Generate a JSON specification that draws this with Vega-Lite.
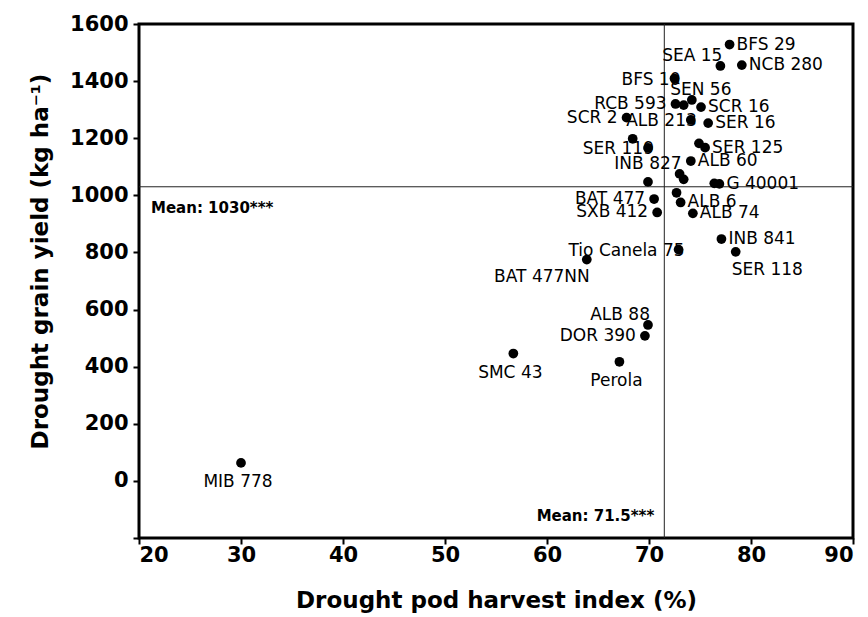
{
  "$schema": "https://vega.github.io/schema/vega-lite/v6.json",
  "width": 714,
  "height": 514,
  "autosize": "none",
  "padding": {"left": 139, "top": 24, "right": 15, "bottom": 79},
  "background": "white",
  "config": {
    "view": {"stroke": "black", "strokeWidth": 3},
    "font": "DejaVu Sans",
    "axis": {
      "domain": false, "grid": false, "tickColor": "black", "tickSize": 6, "tickWidth": 2,
      "labelColor": "black", "labelFont": "DejaVu Sans", "labelFontWeight": "bold", "labelFontSize": 21,
      "titleColor": "black", "titleFont": "DejaVu Sans", "titleFontWeight": "bold", "titleFontSize": 23
    }
  },
  "data": {
    "values": [
      {"label": "BFS 29", "hi": 77.9, "gy": 1528},
      {"label": "SEA 15", "hi": 77.0, "gy": 1453},
      {"label": "NCB 280", "hi": 79.1, "gy": 1456},
      {"label": "BFS 10", "hi": 72.5, "gy": 1409},
      {"label": "RCB 593", "hi": 72.6, "gy": 1320},
      {"label": "", "hi": 73.4, "gy": 1316},
      {"label": "SEN 56", "hi": 74.2, "gy": 1334},
      {"label": "SCR 16", "hi": 75.1, "gy": 1309},
      {"label": "SCR 2", "hi": 67.8, "gy": 1272},
      {"label": "ALB 213", "hi": 74.1, "gy": 1264},
      {"label": "SER 16", "hi": 75.8, "gy": 1253},
      {"label": "", "hi": 68.4, "gy": 1198},
      {"label": "SER 119", "hi": 69.9, "gy": 1166},
      {"label": "", "hi": 74.9, "gy": 1182},
      {"label": "SER 125", "hi": 75.5, "gy": 1167},
      {"label": "ALB 60", "hi": 74.1, "gy": 1120},
      {"label": "INB 827", "hi": 73.0, "gy": 1075},
      {"label": "", "hi": 73.4, "gy": 1056},
      {"label": "", "hi": 69.9, "gy": 1047},
      {"label": "", "hi": 76.4, "gy": 1042},
      {"label": "G 40001", "hi": 76.9, "gy": 1040},
      {"label": "", "hi": 72.7, "gy": 1009},
      {"label": "ALB 6", "hi": 73.1, "gy": 975},
      {"label": "BAT 477", "hi": 70.5, "gy": 987},
      {"label": "SXB 412", "hi": 70.8, "gy": 940},
      {"label": "ALB 74", "hi": 74.3, "gy": 937},
      {"label": "INB 841", "hi": 77.1, "gy": 847},
      {"label": "SER 118", "hi": 78.5, "gy": 802},
      {"label": "Tio Canela 75", "hi": 72.9, "gy": 810},
      {"label": "BAT 477NN", "hi": 63.9, "gy": 775},
      {"label": "ALB 88", "hi": 69.9, "gy": 546},
      {"label": "DOR 390", "hi": 69.6, "gy": 508},
      {"label": "SMC 43", "hi": 56.7, "gy": 446},
      {"label": "Perola", "hi": 67.1, "gy": 417},
      {"label": "MIB 778", "hi": 30.0, "gy": 63}
    ]
  },
  "layer": [
    {
      "data": {"values": [{"hi": 71.5, "gy": 1030}]},
      "mark": {"type": "rule", "color": "#222222", "strokeWidth": 1},
      "encoding": {
        "x": {"field": "hi", "type": "quantitative", "title": "Drought pod harvest index (%)"}
      }
    },
    {
      "data": {"values": [{"hi": 71.5, "gy": 1030}]},
      "mark": {"type": "rule", "color": "#222222", "strokeWidth": 1},
      "encoding": {
        "y": {"field": "gy", "type": "quantitative", "title": "Drought grain yield (kg ha⁻¹)"}
      }
    },
    {
      "mark": {"type": "circle", "size": 95, "color": "black", "opacity": 1},
      "encoding": {
        "x": {
          "field": "hi", "type": "quantitative", "title": "Drought pod harvest index (%)",
          "scale": {"domain": [20, 90], "nice": false, "zero": false},
          "axis": {"values": [20, 30, 40, 50, 60, 70, 80, 90], "format": "d", "labelPadding": 0, "titlePadding": 24}
        },
        "y": {
          "field": "gy", "type": "quantitative", "title": "Drought grain yield (kg ha⁻¹)",
          "scale": {"domain": [-200, 1600], "nice": false, "zero": false},
          "axis": {
            "values": [-200, 0, 200, 400, 600, 800, 1000, 1200, 1400, 1600],
            "format": "d",
            "labelExpr": "datum.value < 0 ? '' : datum.label",
            "labelPadding": 5, "titleX": -99, "titleY": 237, "titleAlign": "center", "titleBaseline": "middle", "titleAngle": -90
          }
        }
      }
    },
    {
      "transform": [{"filter": {"field": "label", "oneOf": ["BFS 29", "NCB 280", "SCR 16", "SER 16", "SER 125", "G 40001", "ALB 6", "ALB 74", "INB 841", "ALB 60"]}}],
      "mark": {"type": "text", "align": "left", "baseline": "middle", "dx": 7, "fontSize": 17, "color": "black"},
      "encoding": {
        "x": {"field": "hi", "type": "quantitative", "title": "Drought pod harvest index (%)"},
        "y": {"field": "gy", "type": "quantitative", "title": "Drought grain yield (kg ha⁻¹)"},
        "text": {"field": "label"}
      }
    },
    {
      "transform": [{"filter": {"field": "label", "oneOf": ["RCB 593", "SCR 2", "BAT 477", "SXB 412", "DOR 390"]}}],
      "mark": {"type": "text", "align": "right", "baseline": "middle", "dx": -9, "fontSize": 17, "color": "black"},
      "encoding": {
        "x": {"field": "hi", "type": "quantitative", "title": "Drought pod harvest index (%)"},
        "y": {"field": "gy", "type": "quantitative", "title": "Drought grain yield (kg ha⁻¹)"},
        "text": {"field": "label"}
      }
    },
    {
      "transform": [{"filter": {"field": "label", "oneOf": ["BFS 10", "Tio Canela 75", "ALB 213", "SER 119"]}}],
      "mark": {"type": "text", "align": "right", "baseline": "middle", "dx": 6, "dy": 1, "fontSize": 17, "color": "black"},
      "encoding": {
        "x": {"field": "hi", "type": "quantitative", "title": "Drought pod harvest index (%)"},
        "y": {"field": "gy", "type": "quantitative", "title": "Drought grain yield (kg ha⁻¹)"},
        "text": {"field": "label"}
      }
    },
    {
      "transform": [{"filter": {"field": "label", "oneOf": ["SEA 15", "ALB 88", "INB 827"]}}],
      "mark": {"type": "text", "align": "right", "baseline": "middle", "dx": 2, "dy": -10, "fontSize": 17, "color": "black"},
      "encoding": {
        "x": {"field": "hi", "type": "quantitative", "title": "Drought pod harvest index (%)"},
        "y": {"field": "gy", "type": "quantitative", "title": "Drought grain yield (kg ha⁻¹)"},
        "text": {"field": "label"}
      }
    },
    {
      "transform": [{"filter": {"field": "label", "oneOf": ["SEN 56"]}}],
      "mark": {"type": "text", "align": "center", "baseline": "middle", "dx": 9, "dy": -10, "fontSize": 17, "color": "black"},
      "encoding": {
        "x": {"field": "hi", "type": "quantitative", "title": "Drought pod harvest index (%)"},
        "y": {"field": "gy", "type": "quantitative", "title": "Drought grain yield (kg ha⁻¹)"},
        "text": {"field": "label"}
      }
    },
    {
      "transform": [{"filter": {"field": "label", "oneOf": ["SMC 43", "Perola", "MIB 778"]}}],
      "mark": {"type": "text", "align": "center", "baseline": "middle", "dx": -3, "dy": 19, "fontSize": 17, "color": "black"},
      "encoding": {
        "x": {"field": "hi", "type": "quantitative", "title": "Drought pod harvest index (%)"},
        "y": {"field": "gy", "type": "quantitative", "title": "Drought grain yield (kg ha⁻¹)"},
        "text": {"field": "label"}
      }
    },
    {
      "transform": [{"filter": {"field": "label", "oneOf": ["BAT 477NN"]}}],
      "mark": {"type": "text", "align": "right", "baseline": "middle", "dx": 3, "dy": 17, "fontSize": 17, "color": "black"},
      "encoding": {
        "x": {"field": "hi", "type": "quantitative", "title": "Drought pod harvest index (%)"},
        "y": {"field": "gy", "type": "quantitative", "title": "Drought grain yield (kg ha⁻¹)"},
        "text": {"field": "label"}
      }
    },
    {
      "transform": [{"filter": {"field": "label", "oneOf": ["SER 118"]}}],
      "mark": {"type": "text", "align": "left", "baseline": "middle", "dx": -4, "dy": 18, "fontSize": 17, "color": "black"},
      "encoding": {
        "x": {"field": "hi", "type": "quantitative", "title": "Drought pod harvest index (%)"},
        "y": {"field": "gy", "type": "quantitative", "title": "Drought grain yield (kg ha⁻¹)"},
        "text": {"field": "label"}
      }
    },
    {
      "data": {"values": [{"hi": 71.5, "gy": 1030}]},
      "mark": {"type": "text", "align": "left", "baseline": "middle", "dx": 12, "dy": 21, "fontSize": 15, "fontWeight": "bold", "color": "black"},
      "encoding": {
        "x": {"datum": 20, "type": "quantitative"},
        "y": {"field": "gy", "type": "quantitative", "title": "Drought grain yield (kg ha⁻¹)"},
        "text": {"value": "Mean: 1030***"}
      }
    },
    {
      "data": {"values": [{"hi": 71.5, "gy": 1030}]},
      "mark": {"type": "text", "align": "right", "baseline": "middle", "dx": -10, "dy": -22, "fontSize": 15, "fontWeight": "bold", "color": "black"},
      "encoding": {
        "x": {"field": "hi", "type": "quantitative", "title": "Drought pod harvest index (%)"},
        "y": {"datum": -200, "type": "quantitative"},
        "text": {"value": "Mean: 71.5***"}
      }
    }
  ]
}
